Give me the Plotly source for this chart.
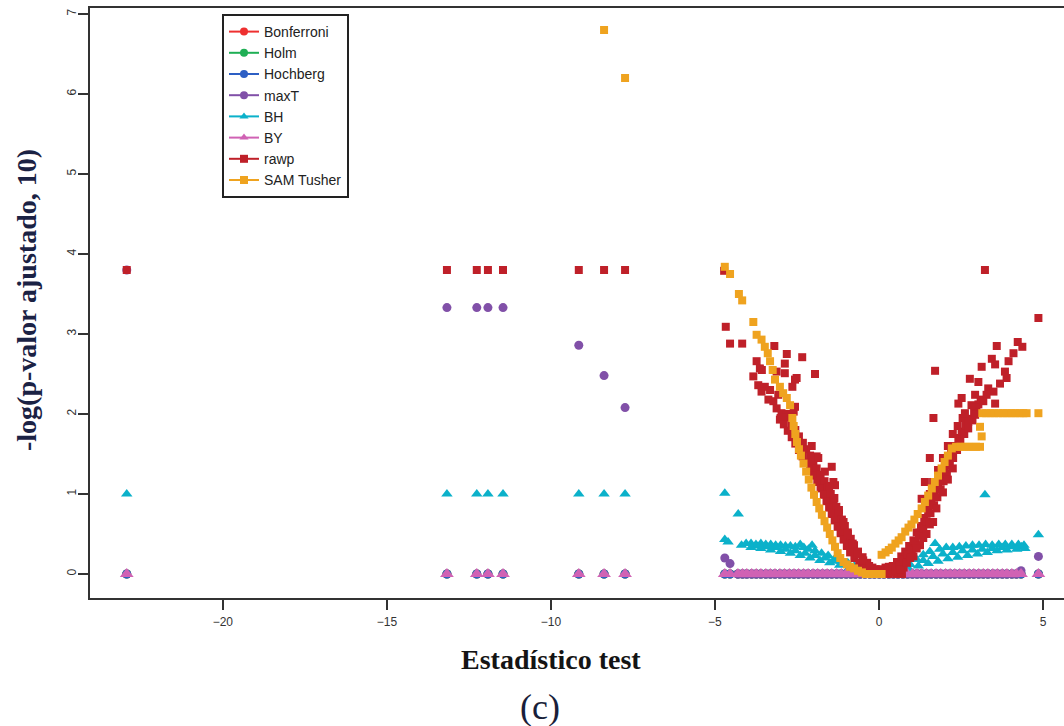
import plotly.graph_objects as go

# ---------------- data ----------------
methods = ["Bonferroni", "Holm", "Hochberg", "maxT", "BH", "BY", "rawp", "SAM Tusher"]
colors = ["#EE3030", "#1FAF55", "#2D5FC4", "#8150A8", "#0BB1CA", "#D062B4", "#BF2029", "#EFA31F"]
symbols = ["circle", "circle", "circle", "circle", "triangle-up", "triangle-up", "square", "square"]

x_tickvals = [-20, -15, -10, -5, 0, 5]
x_ticktext = ["\u221220", "\u221215", "\u221210", "\u22125", "0", "5"]
y_tickvals = [0, 1, 2, 3, 4, 5, 6, 7]

# genes with extreme test statistic
stat_ext = [-22.93, -13.17, -12.26, -11.92, -11.46, -9.15, -8.38, -7.74]
zero_ext = [0.0, 0.0, 0.0, 0.0, 0.0, 0.0, 0.0, 0.0]
maxt_ext = [3.80, 3.33, 3.33, 3.33, 3.33, 2.86, 2.48, 2.08]
bh_ext = [1.0, 1.0, 1.0, 1.0, 1.0, 1.0, 1.0, 1.0]
rawp_ext = [3.80, 3.80, 3.80, 3.80, 3.80, 3.80, 3.80, 3.80]

# genes in the central region
stat_mid = [-4.70, -4.54, -4.30, -4.16, -4.03, -3.88, -3.74, -3.60, -3.45, -3.31,
            -3.17, -3.02, -2.88, -2.73, -2.59, -2.45, -2.30, -2.16, -2.01, -1.87,
            -1.72, -1.58, -1.44, -1.29, -1.15, -1.00, -0.86, -0.72, -0.57, -0.43,
            -0.28, -0.14, 0.01, 0.15, 0.30, 0.44, 0.58, 0.73, 0.87, 1.02,
            1.16, 1.30, 1.45, 1.59, 1.74, 1.88, 2.03, 2.17, 2.31, 2.46,
            2.60, 2.75, 2.89, 3.04, 3.18, 3.32, 3.47, 3.61, 3.76, 3.90,
            4.05, 4.19, 4.33, 4.86]
zero_mid = [0.0, 0.0, 0.0, 0.0, 0.0, 0.0, 0.0, 0.0, 0.0, 0.0,
            0.0, 0.0, 0.0, 0.0, 0.0, 0.0, 0.0, 0.0, 0.0, 0.0,
            0.0, 0.0, 0.0, 0.0, 0.0, 0.0, 0.0, 0.0, 0.0, 0.0,
            0.0, 0.0, 0.0, 0.0, 0.0, 0.0, 0.0, 0.0, 0.0, 0.0,
            0.0, 0.0, 0.0, 0.0, 0.0, 0.0, 0.0, 0.0, 0.0, 0.0,
            0.0, 0.0, 0.0, 0.0, 0.0, 0.0, 0.0, 0.0, 0.0, 0.0,
            0.0, 0.0, 0.0, 0.0]
maxt_mid = [0.20, 0.13, 0.0, 0.0, 0.0, 0.0, 0.0, 0.0, 0.0, 0.0,
            0.0, 0.0, 0.0, 0.0, 0.0, 0.0, 0.0, 0.0, 0.0, 0.0,
            0.0, 0.0, 0.0, 0.0, 0.0, 0.0, 0.0, 0.0, 0.0, 0.0,
            0.0, 0.0, 0.0, 0.0, 0.0, 0.0, 0.0, 0.0, 0.0, 0.0,
            0.0, 0.0, 0.0, 0.0, 0.0, 0.0, 0.0, 0.0, 0.0, 0.0,
            0.0, 0.0, 0.0, 0.0, 0.0, 0.0, 0.0, 0.0, 0.0, 0.0,
            0.0, 0.0, 0.04, 0.22]

# BH adjusted values in the central region (stat, -log10 p)
bh_mid = [(-4.70, 1.01), (-4.29, 0.75), (3.23, 0.99), (4.86, 0.49),
          (-4.70, 0.43), (-4.60, 0.40), (-4.19, 0.36), (-4.05, 0.38), (-3.90, 0.38), (-3.75, 0.37),
          (-3.60, 0.38), (-3.45, 0.37), (-3.30, 0.37), (-3.15, 0.36), (-3.00, 0.36), (-2.85, 0.35),
          (-2.70, 0.35), (-2.55, 0.34), (-2.40, 0.37), (-2.29, 0.33), (-2.04, 0.36), (-2.15, 0.31),
          (-1.95, 0.29), (-1.75, 0.26), (-1.55, 0.23), (-1.35, 0.19), (-1.15, 0.16), (-0.95, 0.14),
          (-0.75, 0.10), (-0.55, 0.07), (-0.35, 0.04),
          (-3.75, 0.35), (-3.45, 0.34), (-3.15, 0.33), (-2.85, 0.31), (-2.55, 0.29), (-2.25, 0.26),
          (-1.95, 0.23), (-1.65, 0.20), (-1.35, 0.16), (-1.05, 0.12), (-0.75, 0.07),
          (-3.90, 0.33), (-3.60, 0.32), (-3.30, 0.30), (-3.00, 0.28), (-2.70, 0.26), (-2.40, 0.23),
          (-2.10, 0.20), (-1.80, 0.17), (-1.50, 0.14), (-1.20, 0.11), (-0.90, 0.08), (-0.60, 0.05),
          (-0.30, 0.02),
          (0.45, 0.04), (0.70, 0.07), (0.95, 0.12), (1.15, 0.18), (1.35, 0.24), (1.55, 0.28),
          (1.71, 0.38), (1.85, 0.31), (2.05, 0.33), (2.25, 0.33), (2.45, 0.34), (2.65, 0.35),
          (2.85, 0.36), (3.05, 0.36), (3.25, 0.37), (3.45, 0.36), (3.65, 0.37), (3.85, 0.37),
          (4.05, 0.37), (4.25, 0.37), (4.42, 0.36),
          (1.35, 0.17), (1.65, 0.22), (1.95, 0.25), (2.25, 0.27), (2.55, 0.29), (2.85, 0.30),
          (3.15, 0.31), (3.45, 0.32), (3.75, 0.33), (4.05, 0.34), (4.35, 0.34),
          (0.90, 0.07), (1.20, 0.10), (1.50, 0.13), (1.80, 0.16), (2.10, 0.19), (2.40, 0.21),
          (2.70, 0.23), (3.00, 0.25), (3.30, 0.27), (3.60, 0.29), (3.90, 0.30), (4.20, 0.31),
          (4.45, 0.32)]

# raw p-values in the central region
rawp_mid = [(-4.72, 3.79), (-4.67, 3.09), (-4.54, 2.88), (-4.17, 2.88), (-3.19, 2.85), (-2.81, 2.75),
            (-2.34, 2.71), (-1.95, 2.50), (-2.51, 2.45), (-3.73, 2.66), (-3.63, 2.57), (-3.83, 2.47),
            (-3.57, 2.55), (-3.12, 2.53), (-2.87, 2.63), (-2.87, 2.51), (-2.56, 2.43), (-2.64, 2.34),
            (-3.68, 2.36), (-3.48, 2.34), (-3.32, 2.30), (-3.58, 2.28), (-3.37, 2.18), (-3.22, 2.16),
            (-3.07, 2.24), (-3.12, 2.07), (-2.97, 2.01), (-3.02, 1.93), (-2.81, 2.00), (-2.56, 2.09),
            (-2.60, 2.03), (-1.90, 1.47), (-1.44, 1.34), (-1.39, 1.15), (-1.34, 1.11),
            (-3.00, 1.95), (-2.78, 1.96), (-2.90, 1.87), (-2.66, 1.88), (-2.78, 1.79), (-2.55, 1.80),
            (-2.66, 1.71), (-2.44, 1.72), (-2.55, 1.63), (-2.32, 1.64), (-2.44, 1.55), (-2.22, 1.56),
            (-2.33, 1.47), (-2.10, 1.48), (-2.22, 1.39), (-2.00, 1.40), (-2.10, 1.31), (-1.90, 1.32),
            (-1.98, 1.23), (-1.78, 1.24), (-1.88, 1.15), (-1.66, 1.16), (-1.78, 1.07), (-1.56, 1.08),
            (-1.68, 0.99), (-1.47, 1.00), (-1.60, 0.91), (-1.38, 0.92), (-1.52, 0.83), (-1.30, 0.84),
            (-1.44, 0.75), (-1.22, 0.76), (-1.35, 0.67), (-1.13, 0.68), (-1.26, 0.59), (-1.04, 0.60),
            (-1.17, 0.51), (-0.95, 0.52), (-1.08, 0.43), (-0.86, 0.44), (-0.98, 0.35), (-0.76, 0.36),
            (-0.88, 0.27), (-0.64, 0.28), (-0.75, 0.20), (-0.50, 0.21), (-0.60, 0.14), (-0.36, 0.14),
            (-0.45, 0.08), (-0.20, 0.08), (-0.25, 0.03), (0.00, 0.03), (-0.05, 0.00), (0.10, 0.00),
            (-2.05, 1.60), (-1.85, 1.45), (-1.65, 1.28), (-1.52, 1.10), (-1.36, 0.95), (-1.22, 0.80),
            (-1.08, 0.65), (-0.95, 0.50), (-0.80, 0.38), (-0.65, 0.25), (-0.48, 0.17), (-0.30, 0.10),
            (-0.10, 0.06), (0.05, 0.06), (-0.35, 0.00), (-0.15, 0.05), (0.20, 0.08), (0.40, 0.04),
            (0.60, 0.03), (0.75, 0.08), (0.30, 0.00), (0.55, 0.00), (0.70, 0.00),
            (0.15, 0.02), (0.25, 0.05), (0.35, 0.02), (0.30, 0.09), (0.42, 0.10), (0.50, 0.05),
            (0.55, 0.15), (0.62, 0.11), (0.68, 0.22), (0.75, 0.18), (0.80, 0.28), (0.88, 0.24),
            (0.92, 0.35), (1.00, 0.31), (1.05, 0.42), (1.12, 0.39), (1.15, 0.52), (1.22, 0.48),
            (1.28, 0.60), (1.35, 0.57), (1.38, 0.70), (1.45, 0.66), (1.50, 0.80), (1.57, 0.76),
            (1.60, 0.90), (1.68, 0.86), (1.70, 1.00), (1.78, 0.96), (1.80, 1.10), (1.88, 1.06),
            (1.90, 1.20), (1.97, 1.16), (2.00, 1.30), (2.07, 1.26), (2.10, 1.40), (2.16, 1.36),
            (2.20, 1.50), (2.26, 1.45), (2.30, 1.60), (2.38, 1.55), (2.42, 1.70), (2.48, 1.66),
            (2.52, 1.78), (2.60, 1.75), (2.64, 1.86), (2.72, 1.82), (2.77, 1.94), (2.85, 1.92),
            (2.90, 2.02), (2.97, 2.06), (3.03, 2.12), (3.10, 2.18),
            (1.55, 1.00), (1.65, 1.15), (1.80, 1.30), (1.95, 1.45), (2.10, 1.60), (2.25, 1.75),
            (2.40, 1.85), (2.55, 1.95), (0.65, 0.06), (0.85, 0.14), (1.05, 0.22), (1.25, 0.36),
            (1.45, 0.50), (1.65, 0.65),
            (0.95, 0.20), (1.15, 0.32), (1.35, 0.45), (1.55, 0.62), (1.75, 0.82), (1.95, 1.02),
            (2.10, 1.18), (2.25, 1.32),
            (3.23, 3.80), (4.86, 3.20), (3.59, 2.85), (4.23, 2.90), (4.37, 2.84), (4.10, 2.76),
            (3.95, 2.66), (3.44, 2.69), (3.54, 2.62), (3.13, 2.59), (1.71, 2.54), (3.84, 2.53),
            (3.89, 2.45), (2.77, 2.44), (3.03, 2.40), (3.69, 2.38), (3.33, 2.32), (3.49, 2.28),
            (3.28, 2.24), (2.93, 2.24), (2.52, 2.20), (3.18, 2.16), (3.54, 2.13), (2.42, 2.13),
            (2.82, 2.11), (2.62, 2.01), (2.93, 1.99), (1.66, 1.95), (2.72, 1.90), (1.55, 1.45),
            (1.40, 1.15), (1.30, 0.94)]

# SAM (Tusher) values
sam_pts = [(-8.38, 6.80), (-7.74, 6.20),
           (-4.70, 3.84), (-4.54, 3.75), (-4.27, 3.50), (-4.17, 3.42), (-3.83, 3.15), (-3.73, 2.99),
           (-3.58, 2.93), (-3.48, 2.84), (-3.39, 2.76), (-3.32, 2.66), (-3.24, 2.55), (-3.17, 2.43),
           (-3.02, 2.34), (-2.92, 2.26), (-2.81, 2.20), (-2.71, 2.11), (-2.64, 1.95), (-2.60, 1.85),
           (-2.55, 1.75), (-2.50, 1.65), (-2.44, 1.56), (-2.38, 1.48), (-2.30, 1.38), (-2.22, 1.28),
           (-2.14, 1.18), (-2.06, 1.08), (-1.98, 0.99), (-1.90, 0.90), (-1.82, 0.82), (-1.74, 0.74),
           (-1.66, 0.66), (-1.58, 0.58), (-1.50, 0.50), (-1.42, 0.42), (-1.34, 0.34), (-1.26, 0.26),
           (-1.18, 0.20), (-1.08, 0.15), (-0.98, 0.12), (-0.88, 0.09), (-0.76, 0.07), (-0.64, 0.04),
           (-0.52, 0.02), (-0.40, 0.00), (-0.28, 0.00), (-0.16, 0.00), (-0.04, 0.00), (0.08, 0.00),
           (0.08, 0.24), (0.20, 0.27), (0.30, 0.30), (0.39, 0.33), (0.50, 0.38), (0.60, 0.42),
           (0.69, 0.46), (0.80, 0.53), (0.90, 0.58), (0.99, 0.62), (1.08, 0.68), (1.18, 0.75),
           (1.30, 0.82), (1.40, 0.90), (1.50, 0.98), (1.61, 1.07), (1.70, 1.15), (1.80, 1.23),
           (1.91, 1.32), (2.00, 1.40), (2.10, 1.48), (2.22, 1.57), (2.35, 1.59), (2.48, 1.59),
           (2.60, 1.59), (2.72, 1.59), (2.84, 1.59), (2.96, 1.59), (3.08, 1.59), (3.13, 1.72),
           (3.08, 1.84), (3.15, 2.01), (3.27, 2.01), (3.40, 2.01), (3.52, 2.01), (3.65, 2.01),
           (3.78, 2.01), (3.90, 2.01), (4.03, 2.01), (4.15, 2.01), (4.28, 2.01), (4.40, 2.01),
           (4.50, 2.01), (4.86, 2.01)]

# ---------------- assemble series ----------------
bh_x = stat_ext + [p[0] for p in bh_mid]
bh_y = bh_ext + [p[1] for p in bh_mid]
rawp_x = stat_ext + [p[0] for p in rawp_mid]
rawp_y = rawp_ext + [p[1] for p in rawp_mid]
sam_x = [p[0] for p in sam_pts]
sam_y = [p[1] for p in sam_pts]
all_x = stat_ext + stat_mid

series = {
    "Bonferroni": (all_x, zero_ext + zero_mid),
    "Holm": (all_x, zero_ext + zero_mid),
    "Hochberg": (all_x, zero_ext + zero_mid),
    "maxT": (all_x, maxt_ext + maxt_mid),
    "BH": (bh_x, bh_y),
    "BY": (all_x, zero_ext + zero_mid),
    "rawp": (rawp_x, rawp_y),
    "SAM Tusher": (sam_x, sam_y),
}

sizes = {"Bonferroni": 9, "Holm": 9, "Hochberg": 9, "maxT": 9,
         "BH": 10, "BY": 12, "rawp": 8, "SAM Tusher": 8}

fig = go.Figure()
for name, col, sym in zip(methods, colors, symbols):
    xs, ys = series[name]
    fig.add_trace(go.Scatter(
        x=xs, y=ys, mode="markers", showlegend=False, name=name,
        marker=dict(color=col, symbol=sym, size=sizes[name], line=dict(width=0)),
    ))
# legend entries (line + point, as in the original)
for name, col, sym in zip(methods, colors, symbols):
    fig.add_trace(go.Scatter(
        x=[None], y=[None], mode="lines+markers", name=name, showlegend=True,
        line=dict(color=col, width=2),
        marker=dict(color=col, symbol=sym, size=8),
    ))

L, R, T, B = 90, 0, 8, 128
W, H = 1064, 726
pw, ph = W - L - R, H - T - B

def px(xpix):
    return (xpix - L) / pw

def py(ypix):
    return (H - B - ypix) / ph

fig.update_layout(
    width=W, height=H,
    margin=dict(l=L, r=R, t=T, b=B, pad=0),
    paper_bgcolor="white", plot_bgcolor="white",
    legend=dict(
        x=px(222), y=py(14), xanchor="left", yanchor="top",
        bgcolor="white", bordercolor="#222222", borderwidth=2,
        font=dict(family="Liberation Sans", size=14, color="#222222"),
        itemwidth=30, tracegroupgap=0,
    ),
    xaxis=dict(
        range=[-24.05, 5.64], tickvals=x_tickvals, ticktext=x_ticktext,
        ticks="outside", ticklen=10, tickwidth=1.5, tickcolor="#333333",
        showline=True, linecolor="#333333", linewidth=2, mirror=True,
        showgrid=False, zeroline=False, ticklabelstandoff=2,
        tickfont=dict(family="Liberation Sans", size=12, color="#333333"),
    ),
    yaxis=dict(
        range=[-0.30, 7.075], tickvals=y_tickvals,
        ticks="outside", ticklen=10, tickwidth=1.5, tickcolor="#333333",
        showline=True, linecolor="#333333", linewidth=2,
        showgrid=False, zeroline=False, tickangle=-90, ticklabelstandoff=-3,
        tickfont=dict(family="Liberation Sans", size=12, color="#333333"),
    ),
    annotations=[
        dict(text="<b>Estadístico test</b>", xref="paper", yref="paper",
             x=px(551), y=py(660), xanchor="center", yanchor="middle", showarrow=False,
             font=dict(family="Liberation Serif", size=28, color="#141414")),
        dict(text="<b>-log(p-valor ajustado, 10)</b>", xref="paper", yref="paper",
             x=px(26), y=py(300), xanchor="center", yanchor="middle", showarrow=False,
             textangle=-90,
             font=dict(family="Liberation Serif", size=28, color="#1b2244")),
        dict(text="(c)", xref="paper", yref="paper",
             x=px(540), y=py(707), xanchor="center", yanchor="middle", showarrow=False,
             font=dict(family="Liberation Serif", size=36, color="#1a1f3a")),
    ],
)

fig.write_html("out.html")
